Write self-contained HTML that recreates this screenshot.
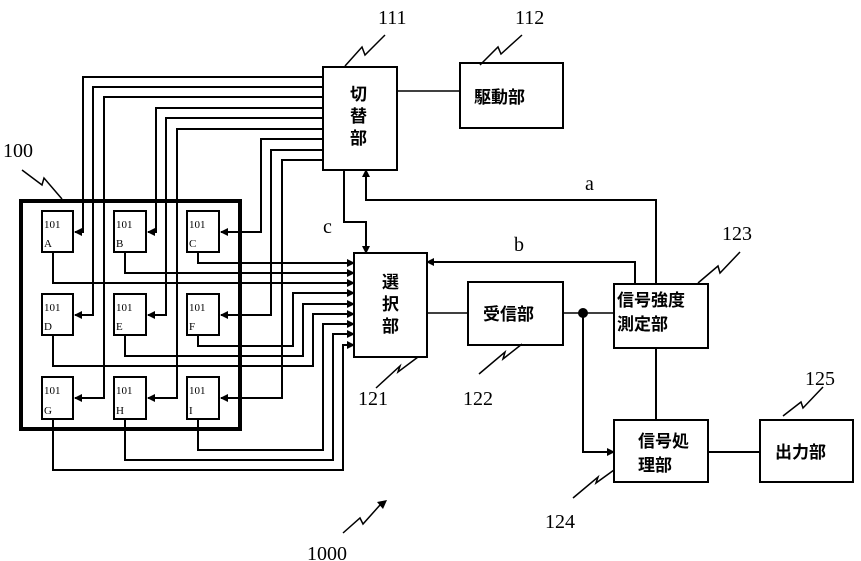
<!DOCTYPE html>
<html><head><meta charset="utf-8"><style>
html,body{margin:0;padding:0;background:#fff;}
svg{display:block;}
.n{font-family:"Liberation Serif",serif;font-size:20px;fill:#000;}
.c{font-family:"Liberation Sans","Noto Sans CJK JP",sans-serif;font-size:17px;font-weight:bold;fill:#000;}
.s{font-family:"Liberation Serif",serif;font-size:11px;fill:#000;}
</style></head><body>
<svg width="861" height="561" viewBox="0 0 861 561" xmlns="http://www.w3.org/2000/svg">
<defs>
<marker id="ar" markerWidth="8" markerHeight="8" refX="7" refY="4" orient="auto" markerUnits="userSpaceOnUse">
<path d="M0,0 L8,4 L0,8 z" fill="#000"/></marker>
</defs>
<g fill="none" stroke="#000" stroke-width="2">
<rect x="21" y="201" width="219" height="228" stroke-width="4"/>
<rect x="42" y="211" width="31" height="41"/><rect x="114" y="211" width="32" height="41"/><rect x="187" y="211" width="32" height="41"/>
<rect x="42" y="294" width="31" height="41"/><rect x="114" y="294" width="32" height="41"/><rect x="187" y="294" width="32" height="41"/>
<rect x="42" y="377" width="31" height="42"/><rect x="114" y="377" width="32" height="42"/><rect x="187" y="377" width="32" height="42"/>
<rect x="323" y="67" width="74" height="103"/>
<rect x="460" y="63" width="103" height="65"/>
<rect x="354" y="253" width="73" height="104"/>
<rect x="468" y="282" width="95" height="63"/>
<rect x="614" y="284" width="94" height="64"/>
<rect x="614" y="420" width="94" height="62"/>
<rect x="760" y="420" width="93" height="62"/>
<polyline points="323,77 83,77 83,232 75,232" marker-end="url(#ar)"/>
<polyline points="323,87 93,87 93,315 75,315" marker-end="url(#ar)"/>
<polyline points="323,97 104,97 104,398 75,398" marker-end="url(#ar)"/>
<polyline points="323,108 156,108 156,232 148,232" marker-end="url(#ar)"/>
<polyline points="323,118 166,118 166,315 148,315" marker-end="url(#ar)"/>
<polyline points="323,129 177,129 177,398 148,398" marker-end="url(#ar)"/>
<polyline points="323,139 261,139 261,232 221,232" marker-end="url(#ar)"/>
<polyline points="323,150 271,150 271,315 221,315" marker-end="url(#ar)"/>
<polyline points="323,160 282,160 282,398 221,398" marker-end="url(#ar)"/>
<polyline points="198,252 198,263 354,263" marker-end="url(#ar)"/>
<polyline points="125,252 125,273 354,273" marker-end="url(#ar)"/>
<polyline points="53,252 53,283 354,283" marker-end="url(#ar)"/>
<polyline points="198,335 198,346 293,346 293,293 354,293" marker-end="url(#ar)"/>
<polyline points="125,335 125,356 303,356 303,304 354,304" marker-end="url(#ar)"/>
<polyline points="53,335 53,366 313,366 313,314 354,314" marker-end="url(#ar)"/>
<polyline points="198,419 198,450 323,450 323,324 354,324" marker-end="url(#ar)"/>
<polyline points="125,419 125,460 333,460 333,334 354,334" marker-end="url(#ar)"/>
<polyline points="53,419 53,470 343,470 343,345 354,345" marker-end="url(#ar)"/>
<polyline points="344,170 344,222 366,222 366,253" marker-end="url(#ar)"/>
<polyline points="656,284 656,200 366,200 366,170" marker-end="url(#ar)"/>
<polyline points="635,284 635,262 427,262" marker-end="url(#ar)"/>
<line x1="397" y1="91" x2="460" y2="91" stroke-width="1.5"/>
<line x1="427" y1="313" x2="468" y2="313" stroke-width="1.5"/>
<line x1="563" y1="313" x2="614" y2="313" stroke-width="1.5"/>
<line x1="656" y1="348" x2="656" y2="420"/>
<polyline points="583,313 583,452 614,452" marker-end="url(#ar)"/>
<line x1="708" y1="452" x2="760" y2="452"/>
<g stroke-width="1.5">
<polyline points="22,170 42,185 44,178 62,199"/>
<polyline points="345,66 362,47 365,55 385,35"/>
<polyline points="480,65 498,47 501,54 522,35"/>
<polyline points="418,357 398,372 400,366 376,388"/>
<polyline points="522,344 503,359 505,352 479,374"/>
<polyline points="698,283 718,266 720,273 740,252"/>
<polyline points="614,470 596,483 598,477 573,498"/>
<polyline points="783,416 801,402 803,408 823,387"/>
<polyline points="343,533 360,518 363,524 380,505"/>
</g>
</g>
<path d="M377,502 L387,500 L383,509 z" fill="#000"/>
<circle cx="583" cy="313" r="5" fill="#000"/>
<text class="n" x="3" y="157">100</text>
<text class="n" x="378" y="24">111</text>
<text class="n" x="515" y="24">112</text>
<text class="n" x="358" y="405">121</text>
<text class="n" x="463" y="405">122</text>
<text class="n" x="722" y="240">123</text>
<text class="n" x="545" y="528">124</text>
<text class="n" x="805" y="385">125</text>
<text class="n" x="307" y="560">1000</text>
<text class="n" x="585" y="190">a</text>
<text class="n" x="514" y="251">b</text>
<text class="n" x="323" y="233">c</text>
<text class="c" x="350" y="100">切</text>
<text class="c" x="350" y="122">替</text>
<text class="c" x="350" y="144">部</text>
<text class="c" x="474" y="103">駆動部</text>
<text class="c" x="382" y="288">選</text>
<text class="c" x="382" y="310">択</text>
<text class="c" x="382" y="332">部</text>
<text class="c" x="483" y="320">受信部</text>
<text class="c" x="617" y="306">信号強度</text>
<text class="c" x="617" y="330">測定部</text>
<text class="c" x="638" y="447">信号処</text>
<text class="c" x="638" y="471">理部</text>
<text class="c" x="775" y="458">出力部</text>
<g class="s">
<text x="44" y="228">101</text><text x="44" y="247">A</text>
<text x="116" y="228">101</text><text x="116" y="247">B</text>
<text x="189" y="228">101</text><text x="189" y="247">C</text>
<text x="44" y="311">101</text><text x="44" y="330">D</text>
<text x="116" y="311">101</text><text x="116" y="330">E</text>
<text x="189" y="311">101</text><text x="189" y="330">F</text>
<text x="44" y="394">101</text><text x="44" y="414">G</text>
<text x="116" y="394">101</text><text x="116" y="414">H</text>
<text x="189" y="394">101</text><text x="189" y="414">I</text>
</g>
</svg>
</body></html>
